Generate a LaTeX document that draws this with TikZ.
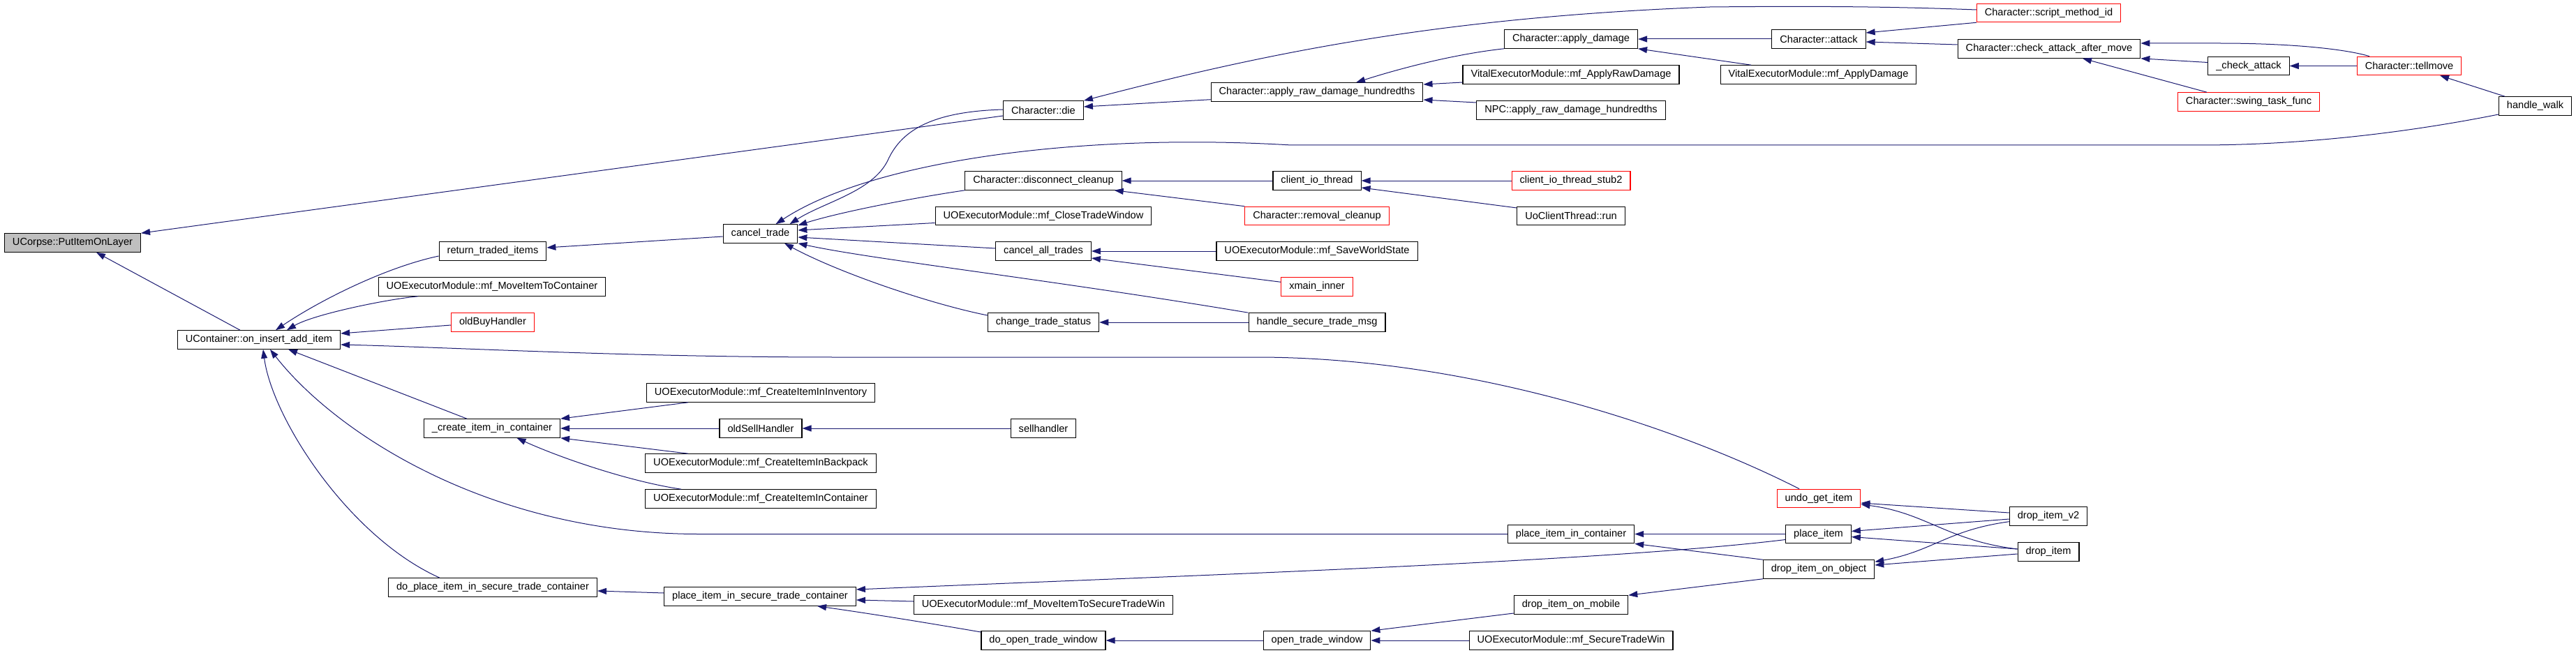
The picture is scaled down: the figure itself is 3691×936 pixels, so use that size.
\documentclass[tikz,border=0pt]{standalone}
\usepackage{fontspec}
\setmainfont{Liberation Sans}
\usetikzlibrary{arrows.meta}
\definecolor{edgeBlue}{HTML}{191970}
\definecolor{rootGrey}{HTML}{BFBFBF}

\begin{document}
\begin{tikzpicture}[x=1pt,y=-1pt,>={Triangle[length=13pt,width=9pt]}]
  \tikzstyle{fn}=[draw,line width=1.1pt,inner xsep=11.5pt,inner ysep=0pt,minimum height=26.5pt,font=\fontsize{14.6}{17}\selectfont]
  \tikzstyle{trunc}=[fn,draw=red]
  \tikzstyle{root}=[fn,fill=rootGrey]
  \tikzstyle{call}=[<-,edgeBlue,line width=1pt]
  \useasboundingbox (0,0) rectangle (3691,936);
  \node[root] (corpse) at (104,348) {UCorpse::PutItemOnLayer};
  \node[fn] (oninsert) at (371,487) {UContainer::on\_insert\_add\_item};
  \node[fn] (retitems) at (706,360) {return\_traded\_items};
  \node[fn] (mvcont) at (705,411) {UOExecutorModule::mf\_MoveItemToContainer};
  \node[trunc] (oldbuy) at (706,462) {oldBuyHandler};
  \node[fn] (createcont) at (705,614) {\_create\_item\_in\_container};
  \node[fn] (doplacesec) at (706,842) {do\_place\_item\_in\_secure\_trade\_container};
  \node[fn] (canceltrade) at (1089.5,335) {cancel\_trade};
  \node[fn] (crinv) at (1090,563) {UOExecutorModule::mf\_CreateItemInInventory};
  \node[fn] (oldsell) at (1090,614) {oldSellHandler};
  \node[fn] (crback) at (1090,664) {UOExecutorModule::mf\_CreateItemInBackpack};
  \node[fn] (crcont) at (1090,715) {UOExecutorModule::mf\_CreateItemInContainer};
  \node[fn] (placesec) at (1089,855) {place\_item\_in\_secure\_trade\_container};
  \node[fn] (die) at (1495,158) {Character::die};
  \node[fn] (disconn) at (1495,259) {Character::disconnect\_cleanup};
  \node[fn] (closetw) at (1495,309.5) {UOExecutorModule::mf\_CloseTradeWindow};
  \node[fn] (cancelall) at (1495,360) {cancel\_all\_trades};
  \node[fn] (chstatus) at (1495,462) {change\_trade\_status};
  \node[fn] (sellh) at (1495,614) {sellhandler};
  \node[fn] (mvsec) at (1495,867) {UOExecutorModule::mf\_MoveItemToSecureTradeWin};
  \node[fn] (doopen) at (1495,918) {do\_open\_trade\_window};
  \node[fn] (rawdmg) at (1887,132) {Character::apply\_raw\_damage\_hundredths};
  \node[fn] (cliothread) at (1887,259) {client\_io\_thread};
  \node[trunc] (removal) at (1887,309.5) {Character::removal\_cleanup};
  \node[fn] (saveworld) at (1887,360) {UOExecutorModule::mf\_SaveWorldState};
  \node[trunc] (xmain) at (1887,411) {xmain\_inner};
  \node[fn] (handlesec) at (1887,462) {handle\_secure\_trade\_msg};
  \node[fn] (opentw) at (1887,918) {open\_trade\_window};
  \node[fn] (applydmg) at (2251,56) {Character::apply\_damage};
  \node[fn] (vitalraw) at (2251,107) {VitalExecutorModule::mf\_ApplyRawDamage};
  \node[fn] (npcraw) at (2251,158) {NPC::apply\_raw\_damage\_hundredths};
  \node[trunc] (stub2) at (2251,259) {client\_io\_thread\_stub2};
  \node[fn] (uoclient) at (2251,309.5) {UoClientThread::run};
  \node[fn] (placecont) at (2251,765.5) {place\_item\_in\_container};
  \node[fn] (dropmobile) at (2251,867) {drop\_item\_on\_mobile};
  \node[fn] (securetw) at (2251,918) {UOExecutorModule::mf\_SecureTradeWin};
  \node[fn] (attack) at (2606,56) {Character::attack};
  \node[fn] (applydmgv) at (2605.5,107) {VitalExecutorModule::mf\_ApplyDamage};
  \node[trunc] (undoget) at (2606,714.5) {undo\_get\_item};
  \node[fn] (placeitem) at (2605.5,765.5) {place\_item};
  \node[fn] (dropobj) at (2606,816) {drop\_item\_on\_object};
  \node[trunc] (scriptid) at (2935.5,18.5) {Character::script\_method\_id};
  \node[fn] (checkafter) at (2936,70) {Character::check\_attack\_after\_move};
  \node[fn] (dropv2) at (2935,740) {drop\_item\_v2};
  \node[fn] (dropitem) at (2935,791) {drop\_item};
  \node[fn] (checkattack) at (3222,94.5) {\_check\_attack};
  \node[trunc] (swing) at (3222,146) {Character::swing\_task\_func};
  \node[trunc] (tellmove) at (3452,94.5) {Character::tellmove};
  \node[fn] (handlewalk) at (3632.5,152) {handle\_walk};
  \draw[call] (corpse.north east) -- ([yshift=-8]die.west);
  \draw[call] ([xshift=34]corpse.south) -- ([xshift=-27]oninsert.north);
  \draw[call] ([xshift=24]oninsert.north) .. controls (459,430) and (553,383) .. ([yshift=-7]retitems.west);
  \draw[call] ([xshift=40]oninsert.north) .. controls (450,450) and (560,428) .. ([xshift=-106]mvcont.south);
  \draw[call] ([yshift=9]oninsert.east) -- ([yshift=-4]oldbuy.west);
  \draw[call] ([yshift=-7]oninsert.east) .. controls (650,498) and (900,512) .. (1200,512) -- (1800,512) .. controls (2100,512) and (2400,610) .. ([xshift=-28]undoget.north);
  \draw[call] ([xshift=42]oninsert.south) -- ([xshift=-36]createcont.north);
  \draw[call] ([xshift=16]oninsert.south) .. controls (480,620) and (700,765) .. (1000,765.5) -- (placecont.west);
  \draw[call] ([xshift=6]oninsert.south) .. controls (390,600) and (500,770) .. ([xshift=-76]doplacesec.north);
  \draw[call] ([yshift=5]retitems.east) -- ([yshift=-4]canceltrade.west);
  \draw[call] ([xshift=22]canceltrade.north) .. controls (1250,230) and (1550,190) .. (1850,208) -- (3150,208) .. controls (3300,208) and (3450,190) .. ([yshift=-12]handlewalk.west);
  \draw[call] ([xshift=42]canceltrade.north) .. controls (1180,290) and (1250,275) .. (1272,230) .. controls (1290,190) and (1330,160) .. ([yshift=1]die.west);
  \draw[call] ([yshift=12]canceltrade.east) .. controls (1200,305) and (1300,285) .. (disconn.south west);
  \draw[call] ([yshift=5]canceltrade.east) -- ([yshift=-10]closetw.west);
  \draw[call] ([yshift=-5]canceltrade.east) -- ([yshift=4]cancelall.west);
  \draw[call] (canceltrade.south east) .. controls (1250,372) and (1500,400) .. (handlesec.north west);
  \draw[call] ([xshift=34.5]canceltrade.south) .. controls (1200,390) and (1330,435) .. ([yshift=10]chstatus.west);
  \draw[call] (die.north east) .. controls (1800,80) and (2050,25) .. (2450,10) .. controls (2650,8) and (2750,11) .. ([yshift=4.5]scriptid.west);
  \draw[call] ([yshift=5]die.east) -- ([yshift=-10.7]rawdmg.west);
  \draw[call] ([xshift=56]rawdmg.north) .. controls (2000,100) and (2080,78) .. (applydmg.south west);
  \draw[call] ([yshift=11]rawdmg.east) -- ([yshift=-11]vitalraw.west);
  \draw[call] ([yshift=-11]rawdmg.east) -- ([yshift=11]npcraw.west);
  \draw[call] (applydmg.east) -- (attack.west);
  \draw[call] (applydmg.south east) -- ([xshift=-96.5]applydmgv.north);
  \draw[call] ([yshift=9]attack.east) -- (scriptid.south west);
  \draw[call] ([yshift=-4]attack.east) -- ([yshift=6]checkafter.west);
  \draw[call] (checkafter.south east) -- ([yshift=5]checkattack.west);
  \draw[call] ([yshift=8]checkafter.east) -- (3180,62) .. controls (3280,62) and (3360,70) .. ([xshift=-57]tellmove.north);
  \draw[call] ([xshift=48]checkafter.south) -- ([xshift=-60]swing.north);
  \draw[call] (checkattack.east) -- (tellmove.west);
  \draw[call] ([xshift=44]tellmove.south) -- ([xshift=-43.5]handlewalk.north);
  \draw[call] (disconn.east) -- (cliothread.west);
  \draw[call] ([xshift=-11]disconn.south east) -- (removal.north west);
  \draw[call] (cliothread.east) -- (stub2.west);
  \draw[call] ([yshift=-10]cliothread.east) -- ([yshift=11.5]uoclient.west);
  \draw[call] (cancelall.east) -- (saveworld.west);
  \draw[call] ([yshift=-10]cancelall.east) -- ([yshift=6.7]xmain.west);
  \draw[call] (chstatus.east) -- (handlesec.west);
  \draw[call] (createcont.north east) -- ([xshift=-104]crinv.south);
  \draw[call] (createcont.east) -- (oldsell.west);
  \draw[call] (createcont.south east) -- ([xshift=-104]crback.north);
  \draw[call] ([xshift=35.5]createcont.south) .. controls (800,655) and (900,690) .. ([xshift=-114]crcont.north);
  \draw[call] (oldsell.east) -- (sellh.west);
  \draw[call] ([yshift=-5]doplacesec.east) -- ([yshift=5]placesec.west);
  \draw[call] ([yshift=10]placesec.east) .. controls (1700,825) and (2300,805) .. ([yshift=-8]placeitem.west);
  \draw[call] ([yshift=-5]placesec.east) -- ([yshift=5]mvsec.west);
  \draw[call] ([xshift=82]placesec.south) .. controls (1250,880) and (1330,893) .. ([yshift=12]doopen.west);
  \draw[call] (doopen.east) -- (opentw.west);
  \draw[call] (opentw.north east) -- ([yshift=-12]dropmobile.west);
  \draw[call] (opentw.east) -- (securetw.west);
  \draw[call] (placecont.east) -- (placeitem.west);
  \draw[call] (placecont.south east) -- (dropobj.north west);
  \draw[call] (dropmobile.north east) -- (dropobj.south west);
  \draw[call] ([yshift=-6.5]undoget.east) -- ([yshift=5]dropv2.west);
  \draw[call] ([yshift=-8.5]undoget.east) .. controls (2760,735) and (2790,775) .. ([yshift=4]dropitem.west);
  \draw[call] ([yshift=4]placeitem.east) -- ([yshift=-4]dropv2.west);
  \draw[call] ([yshift=-4]placeitem.east) -- ([yshift=4]dropitem.west);
  \draw[call] ([yshift=10.7]dropobj.east) .. controls (2770,790) and (2790,760) .. ([yshift=-7.7]dropv2.west);
  \draw[call] ([yshift=6]dropobj.east) -- ([yshift=-3]dropitem.west);
\end{tikzpicture}
\end{document}
